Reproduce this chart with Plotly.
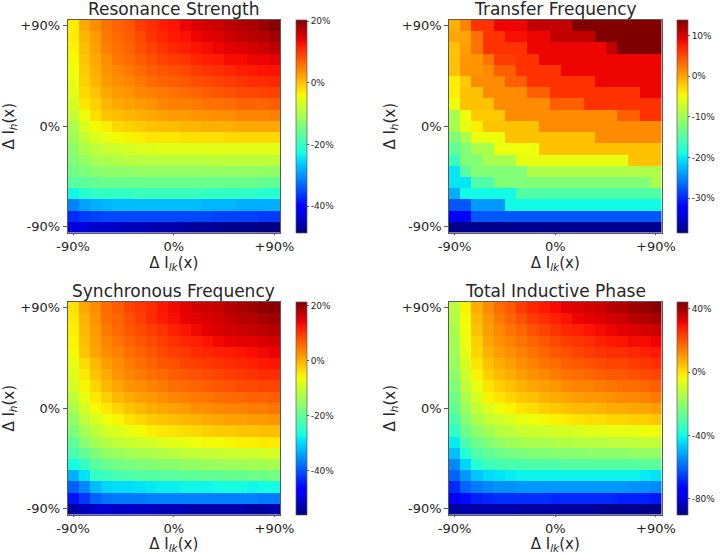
import numpy as np
import plotly.graph_objects as go

W, H = 720, 554
x_levels = [-90, -80, -70, -60, -50, -40, -30, -20, -10, 0, 10, 20, 30, 40, 50, 60, 70, 80, 90]
y_levels = [90, 80, 70, 60, 50, 40, 30, 20, 10, 0, -10, -20, -30, -40, -50, -60, -70, -80, -90]
axis_ticks = [-90, 0, 90]
axis_labels = ["-90%", "0%", "+90%"]

titles = ["Resonance Strength", "Transfer Frequency", "Synchronous Frequency", "Total Inductive Phase"]

resonance = [
    [-3, 2, 4, 6, 7, 8, 10, 11, 12, 13, 14, 15, 15.5, 16, 17, 17.5, 18, 19, 20],
    [-3, 1, 3, 5.5, 6.5, 7.5, 9, 10.5, 11.5, 12.5, 13, 14, 14.5, 15, 16, 16.5, 17, 17.5, 18.5],
    [-3.5, 0.5, 2.5, 5, 6, 7, 8.5, 9.5, 10.5, 11.5, 12, 13, 13.5, 14, 14.5, 15, 15.5, 16, 17],
    [-4, 0, 2, 4, 5.5, 6.5, 7.5, 8.5, 9.5, 10, 10.5, 11.5, 12, 12.5, 13.5, 13.5, 14, 14, 14.5],
    [-4.5, -0.5, 1.5, 3.5, 4.5, 5.5, 6.5, 7.5, 8, 8.5, 9, 10, 10.5, 11, 11.5, 12, 12.5, 13, 13],
    [-5, -1, 1, 3, 4, 4.5, 5.5, 6.5, 7, 7.5, 8, 8.5, 9, 9.5, 10, 10.5, 11, 11, 11.5],
    [-5.5, -1.5, 0, 2, 3, 3.5, 4.5, 5, 5.5, 6, 6.5, 7, 7.5, 8, 8.5, 9, 9, 9.5, 9.5],
    [-6.5, -2.5, -1, 1, 2, 2.5, 3, 3.5, 4.5, 5, 5, 5.5, 6, 6, 6.5, 7, 7, 7, 7.5],
    [-8, -4.5, -2, 0, 0.5, 1, 1.5, 2, 2.5, 3, 3, 3.5, 3.5, 4, 4, 4.5, 4.5, 4.5, 5],
    [-10, -6, -4, -3, -1.5, -1, -0.5, 0, 0.5, 0.5, 1, 1, 1.5, 1.5, 1.5, 2, 2, 2, 2],
    [-11, -8, -6, -5, -4, -3.5, -3, -2.5, -2.5, -2.5, -2, -2, -2, -2, -1.5, -1.5, -1.5, -1.5, -1.5],
    [-12.5, -10, -8.5, -7.5, -7, -6.5, -6, -6, -5.5, -5.5, -5.5, -5.5, -5.5, -5.5, -5.5, -5.5, -5.5, -5.5, -5.5],
    [-13.5, -12, -10.5, -10, -9.5, -9, -9, -9, -9, -9, -9, -9, -9, -8.5, -8.5, -8.5, -8.5, -8.5, -8.5],
    [-15, -14, -13, -12.5, -12.5, -12.5, -12, -12, -12, -12, -12, -12, -12, -12, -12, -12, -12, -12, -12.5],
    [-17, -16.5, -16, -15.5, -15.5, -15.5, -15.5, -15.5, -15.5, -15.5, -15.5, -15.5, -15.5, -15.5, -15.5, -15.5, -15.5, -16, -16],
    [-23, -21, -20, -20, -20, -20, -19.5, -19.5, -19.5, -19.5, -19.5, -19.5, -20, -20, -20, -20.5, -20.5, -21, -21],
    [-31, -29, -28, -27.5, -27, -27, -27, -27, -27, -27, -27, -27, -27.5, -27.5, -27.5, -28, -28, -28, -28],
    [-37, -36, -35.5, -35, -35, -35, -35, -35, -35, -35, -35, -35, -35, -35.5, -35.5, -35.5, -35.5, -36, -36],
    [-43, -43, -44, -44, -44.5, -45, -45, -45.5, -46, -46, -46.5, -47, -47, -47.5, -48, -48, -48, -48.5, -48.5],
]

transfer = [
    [-0.5, 2, 6.5, 6.5, 9, 9, 9, 11, 11, 11, 11, 14, 14, 14, 14, 14, 14, 14, 14],
    [0, 0, 3, 6.5, 6.5, 8.5, 8.5, 9, 9, 11, 11, 11, 11, 14, 14, 14, 14, 14, 14],
    [-1.5, 0.5, 3, 6.5, 6.5, 6.5, 6.5, 9, 9, 9, 9, 9, 9, 9, 11, 14, 14, 14, 14],
    [-1.5, 1, 1, 3, 6, 6, 6.5, 6.5, 9, 9, 9, 9, 9, 9, 9, 9, 9, 9, 9],
    [-1.5, 1, 1, 1.5, 4, 4, 6.5, 6.5, 6.5, 6.5, 9, 9, 9, 9, 9, 9, 9, 9, 9],
    [-4, -2, 1.5, 1.5, 1.5, 4, 4, 6.5, 6.5, 6.5, 6.5, 6.5, 6.5, 9, 9, 9, 9, 9, 9],
    [-4, -1.5, -1.5, 1.5, 1.5, 1.5, 1.5, 4, 4, 6.5, 6.5, 6.5, 6.5, 6.5, 6.5, 6.5, 6.5, 9, 9],
    [-5, -1.5, -1.5, -1.5, 1.5, 1.5, 1.5, 1.5, 1.5, 4, 4, 4, 6.5, 6.5, 6.5, 6.5, 6.5, 6.5, 6.5],
    [-9.5, -5, -2, -2, -2, 1.5, 1.5, 1.5, 1.5, 1.5, 1.5, 1.5, 1.5, 1.5, 1.5, 4, 4, 6.5, 6.5],
    [-9.5, -5.5, -4, -1.5, -1.5, -1.5, -1.5, -1.5, 1.5, 1.5, 1.5, 1.5, 1.5, 1.5, 1.5, 1.5, 1.5, 1.5, 1.5],
    [-12, -9.5, -5, -5, -5, -1.5, -1.5, -1.5, -1.5, -1.5, -1.5, -1.5, -1.5, 1.5, 1.5, 1.5, 1.5, 1.5, 1.5],
    [-14, -12, -9.5, -9.5, -5, -5, -5, -5, -1.5, -1.5, -1.5, -1.5, -1.5, -1.5, -1.5, -1.5, -1.5, -1.5, -1.5],
    [-16.5, -12, -12, -9.5, -9.5, -9.5, -5.5, -5.5, -5.5, -5.5, -5.5, -5.5, -5.5, -5.5, -5.5, -5.5, -1.5, -1.5, -1.5],
    [-20, -14.5, -12, -12, -12, -12, -12, -9, -9, -9, -9, -9, -9, -9, -9, -9, -9, -9, -9],
    [-20, -20, -15, -15, -12, -12, -12, -12, -12, -12, -12, -12, -12, -12, -12, -12, -12, -12, -9],
    [-23, -19, -19, -19, -19, -19, -15, -15, -15, -15, -15, -15, -15, -15, -15, -15, -15, -15, -15],
    [-27.5, -27.5, -24, -24, -24, -19, -19, -19, -19, -19, -19, -19, -19, -19, -19, -19, -19, -19, -19],
    [-32, -32, -27.5, -27.5, -27.5, -27.5, -27.5, -27.5, -27.5, -27.5, -27.5, -27.5, -27.5, -27.5, -27.5, -27.5, -27.5, -27.5, -27.5],
    [-38, -38, -38, -38, -38, -38, -38, -38, -38, -38, -38, -38, -38, -38, -38, -38, -38, -38, -38],
]

synchronous = [
    [-4, 1, 3, 6, 7, 9, 10, 11, 13, 14, 15, 16, 16.5, 17, 18, 19, 19.5, 20.5, 21],
    [-4.5, 0, 2.5, 5.5, 6.5, 8, 9.5, 11, 12.5, 13.5, 14.5, 15, 15.5, 16, 17, 18, 18, 19, 19.5],
    [-5, -0.5, 2, 4.5, 6, 7.5, 8.5, 9.5, 10.5, 12, 13, 14, 15, 15.5, 16, 16.5, 17, 17.5, 18],
    [-5.5, -1, 1.5, 3.5, 5, 6.5, 7.5, 8.5, 9.5, 10.5, 11.5, 12, 13, 14, 14.5, 15, 15, 15.5, 16],
    [-6, -1.5, 1, 3, 4, 5.5, 6.5, 7.5, 8.5, 9.5, 10, 11, 11.5, 12, 12.5, 13, 13.5, 14, 14.5],
    [-7.5, -3.5, -0.5, 1.5, 3, 4.5, 5.5, 6.5, 7.5, 8, 9, 9.5, 10, 10.5, 11, 11.5, 12, 12.5, 13],
    [-8, -4.5, -1.5, 0.5, 2.5, 3.5, 4.5, 5.5, 6, 7, 7.5, 8, 8.5, 9, 9.5, 10, 10.5, 11, 11],
    [-9, -5.5, -3, -0.5, 1, 2.5, 3, 4, 4.5, 5.5, 6, 6.5, 7, 7.5, 8, 8.5, 8.5, 9, 9],
    [-11, -7, -4.5, -2.5, -0.5, 0.5, 1.5, 2, 3, 3.5, 4, 4.5, 5, 5.5, 6, 6, 6.5, 6.5, 7],
    [-13, -9, -6, -4.5, -3, -1.5, -0.5, 0.5, 1, 1.5, 2, 3, 3, 3.5, 4, 4, 4.5, 4.5, 5],
    [-15, -11, -8.5, -6.5, -5.5, -4, -3, -2, -1.5, -1, -0.5, 0, 0.5, 1, 1.5, 1.5, 2, 2, 2.5],
    [-17, -13.5, -11, -9, -8, -7, -6, -5, -4.5, -4, -3.5, -3, -2.5, -2, -2, -1.5, -1.5, -1, -1],
    [-20, -16, -13.5, -12, -11, -10, -9.5, -9, -8, -7.5, -7, -6.5, -6, -6, -5.5, -5, -5, -4.5, -4.5],
    [-22, -19.5, -17, -15, -14.5, -13.5, -13, -12.5, -12, -11.5, -11, -10.5, -10.5, -10, -10, -9.5, -9.5, -9, -9],
    [-27, -24, -20.5, -19, -18, -17.5, -17, -16.5, -16, -16, -15, -15, -14.5, -14.5, -14, -14, -13.5, -13.5, -13],
    [-33, -29, -24, -23, -22, -21.5, -21, -21, -20.5, -20.5, -20, -20, -19.5, -19.5, -19, -19, -18.5, -18.5, -18],
    [-39, -36, -32, -30, -29.5, -29.5, -29, -28.5, -28, -28, -27.5, -27.5, -27.5, -27, -27, -27, -27.5, -27, -27],
    [-45, -42, -39, -37.5, -37, -37, -37, -36.5, -36.5, -36.5, -36.5, -36.5, -36.5, -36.5, -36.5, -36.5, -36.5, -37, -37],
    [-54, -52, -51, -50.5, -51, -51, -51.5, -52, -52, -52, -52.5, -53, -53, -53, -53, -53, -54, -54, -53],
]

inductive = [
    [-13, -2, 8, 13, 17, 20, 24, 27, 29, 31, 33, 34, 35, 36, 38, 39, 41, 42, 44],
    [-14, -3, 6, 11, 15, 18, 21, 24, 26, 28, 30, 32, 33, 34, 35, 36, 38, 39, 40],
    [-15, -4, 5, 10, 13, 16, 18, 21, 23, 25, 27, 28, 30, 31, 32, 33, 34, 35, 36],
    [-16, -5, 3, 9, 12, 14, 16, 18, 20, 22, 24, 25, 26, 28, 29, 30, 31, 31, 32],
    [-17, -6, 2, 7, 10, 12, 14, 16, 18, 20, 21, 23, 24, 25, 26, 26, 27, 28, 29],
    [-18, -8, 0, 5, 8, 10, 12, 14, 16, 17, 19, 20, 21, 22, 23, 23, 24, 25, 26],
    [-20, -10, -2, 3, 6, 8, 10, 12, 13, 15, 16, 17, 18, 19, 20, 20, 21, 22, 23],
    [-22, -12, -5, 0, 3, 5, 7, 9, 10, 11, 13, 14, 14, 15, 16, 17, 17, 18, 19],
    [-25, -15, -8, -2, 0, 2, 4, 5, 7, 8, 9, 10, 11, 11, 12, 13, 13, 14, 15],
    [-27, -18, -11, -7, -4, -2, 0, 1, 3, 4, 5, 6, 6, 7, 8, 8, 9, 9, 10],
    [-31, -21, -15, -11, -9, -7, -5, -4, -3, -2, -1, 0, 1, 1, 2, 2, 3, 3, 4],
    [-35, -25, -20, -16, -13, -12, -10, -9, -9, -8, -8, -7, -6, -6, -5, -5, -5, -4, -4],
    [-42, -31, -25, -22, -19, -17, -16, -15, -15, -14, -14, -13, -13, -13, -12, -12, -12, -11, -11],
    [-48, -37, -30, -27, -25, -24, -23, -22, -22, -21, -21, -21, -20, -20, -20, -20, -19, -19, -19],
    [-55, -45, -37, -33, -32, -31, -31, -30, -30, -30, -29, -29, -29, -29, -29, -29, -29, -28, -28],
    [-60, -53, -47, -44, -43, -42, -41, -41, -41, -41, -41, -41, -41, -41, -41, -41, -41, -42, -43],
    [-68, -60, -57, -55, -54, -54, -53, -53, -53, -53, -53, -53, -53, -53, -53, -53, -54, -54, -55],
    [-76, -72, -69, -68, -67, -67, -67, -67, -67, -68, -68, -68, -68, -68, -68, -69, -69, -69, -70],
    [-86, -85, -85, -85, -85, -85, -86, -86, -86, -86, -87, -87, -87, -88, -88, -88, -88, -89, -89],
]

panels = [resonance, transfer, synchronous, inductive]
z_limits = [(-48.5, 20.5), (-38.5, 14), (-56, 21.6), (-90, 44.7)]
cbar_ticks = [[20, 0, -20, -40], [10, 0, -10, -20, -30], [20, 0, -20, -40], [40, 0, -40, -80]]

# matplotlib's jet colormap
stops = [0, .11, .125, .34, .35, .375, .64, .65, .66, .89, .91, 1]
red = np.interp(stops, [0, .35, .66, .89, 1], [0, 0, 1, 1, .5])
green = np.interp(stops, [0, .125, .375, .64, .91, 1], [0, 0, 1, 1, 0, 0])
blue = np.interp(stops, [0, .11, .34, .65, 1], [.5, 1, 1, 0, 0])
jet = [[s, f"rgb({r*255:.0f},{g*255:.0f},{b*255:.0f})"] for s, r, g, b in zip(stops, red, green, blue)]

FONT = "DejaVu Sans"
INK = "#262626"
LINE = "#5a5a5a"
lefts = [67.5, 449]
cbar_lefts = [295.7, 676.7]
tops = [20, 302]
side = 212.5
cbar_w = 11.3
ML, MR, MT, MB = 30, 36, 18, 18
plot_w, plot_h = W - ML - MR, H - MT - MB


def fx(px):
    return (px - ML) / plot_w


def fy(py):
    return 1 - (py - MT) / plot_h


fig = go.Figure()
annotations = []
for k, z in enumerate(panels):
    col, row = k % 2, k // 2
    x0, y0 = lefts[col], tops[row]
    suffix = "" if k == 0 else str(k + 1)
    fig.add_trace(go.Heatmap(
        x=x_levels, y=y_levels, z=z, zmin=z_limits[k][0], zmax=z_limits[k][1],
        colorscale=jet, xaxis=f"x{suffix}", yaxis=f"y{suffix}", hoverongaps=False,
        colorbar=dict(
            x=fx(cbar_lefts[col]), xanchor="left",
            y=fy(y0 + side), yanchor="bottom",
            len=side, lenmode="pixels",
            thickness=cbar_w, thicknessmode="pixels",
            tickvals=cbar_ticks[k], ticktext=[f"{t}%" for t in cbar_ticks[k]],
            tickfont=dict(family=FONT, size=9, color=INK),
            ticks="outside", ticklen=2, tickwidth=0.7, tickcolor=LINE,
            outlinewidth=0.7, outlinecolor=LINE, xpad=0, ypad=0,
        ),
    ))
    common = dict(
        tickvals=axis_ticks, ticktext=axis_labels, tickfont=dict(family=FONT, size=13, color=INK),
        range=[-95, 95], ticks="outside", tickwidth=0.7, tickcolor=LINE,
        showgrid=False, zeroline=False, showline=True, linecolor=LINE, linewidth=0.7, mirror=True,
        automargin=False,
    )
    fig.layout[f"xaxis{suffix}"] = dict(
        common, ticklen=2, domain=[fx(x0), fx(x0 + side)], anchor=f"y{suffix}",
        title=dict(text="Δ I<sub><i>lk</i></sub>(x)", font=dict(family=FONT, size=15, color=INK), standoff=1),
    )
    fig.layout[f"yaxis{suffix}"] = dict(
        common, ticklen=4, domain=[fy(y0 + side), fy(y0)], anchor=f"x{suffix}",
        title=dict(text="Δ I<sub><i>h</i></sub>(x)", font=dict(family=FONT, size=15, color=INK), standoff=2),
    )
    annotations.append(dict(
        text=titles[k], x=fx(x0 + side / 2), y=fy(y0 + 0.5), xref="paper", yref="paper",
        xanchor="center", yanchor="bottom", showarrow=False,
        font=dict(family=FONT, size=17, color=INK),
    ))

fig.update_layout(
    width=W, height=H, margin=dict(l=ML, r=MR, t=MT, b=MB, autoexpand=False),
    paper_bgcolor="white", plot_bgcolor="white", annotations=annotations,
)
fig.write_html("out.html", config={"displayModeBar": False}, post_script="document.body.style.margin='0';")
